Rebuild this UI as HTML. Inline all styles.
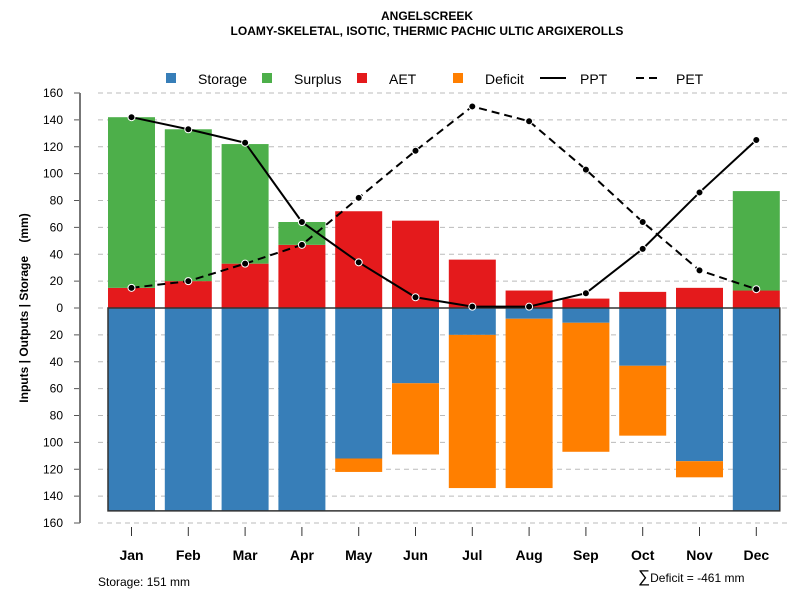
<!DOCTYPE html>
<html><head><meta charset="utf-8"><style>
body{margin:0;background:#fff;}
svg{display:block;font-family:"Liberation Sans",sans-serif;}
</style></head><body>
<svg id="chart" width="800" height="600" viewBox="0 0 800 600">
<text x="427" y="20" text-anchor="middle" font-size="12" font-weight="bold">ANGELSCREEK</text>
<text x="427" y="35" text-anchor="middle" font-size="12" font-weight="bold">LOAMY-SKELETAL, ISOTIC, THERMIC PACHIC ULTIC ARGIXEROLLS</text>
<g>
<rect x="166" y="73" width="10" height="10" fill="#377eb8"/>
<text x="198" y="84" font-size="14">Storage</text>
<rect x="262" y="73" width="10" height="10" fill="#4daf4a"/>
<text x="294" y="84" font-size="14">Surplus</text>
<rect x="357" y="73" width="10" height="10" fill="#e41a1c"/>
<text x="389" y="84" font-size="14">AET</text>
<rect x="453" y="73" width="10" height="10" fill="#ff7f00"/>
<text x="485" y="84" font-size="14">Deficit</text>
<line x1="540" y1="78" x2="566" y2="78" stroke="#000" stroke-width="2"/>
<text x="580" y="84" font-size="14">PPT</text>
<line x1="636" y1="78" x2="662" y2="78" stroke="#000" stroke-width="2" stroke-dasharray="8,5"/>
<text x="676" y="84" font-size="14">PET</text>
</g>
<text transform="translate(28,308) rotate(-90)" text-anchor="middle" font-size="12" font-weight="bold" style="white-space:pre">Inputs | Outputs | Storage    (mm)</text>
<text x="98" y="586" font-size="12">Storage: 151 mm</text>
<text x="638" y="582" font-size="12"><tspan font-size="17">∑</tspan>Deficit = -461 mm</text>
<g id="grid"></g><g id="bars"></g><g id="lines"></g><g id="axes"></g>
</svg>
<script>
const months=["Jan","Feb","Mar","Apr","May","Jun","Jul","Aug","Sep","Oct","Nov","Dec"];
const aet=[15,20,33,47,72,65,36,13,7,12,15,13];
const surplus=[127,113,89,17,0,0,0,0,0,0,0,74];
const storage=[151,151,151,151,112,56,20,8,11,43,114,151];
const deficit=[0,0,0,0,10,53,114,126,96,52,12,0];
const ppt=[142,133,123,64,34,8,1,1,11,44,86,125];
const pet=[15,20,33,47,82,117,150,139,103,64,28,14];
const yTicks=[160,140,120,100,80,60,40,20,0,-20,-40,-60,-80,-100,-120,-140,-160];
const maxStorage=151;
const NS="http://www.w3.org/2000/svg";
const y=v=>308-v*215/160;
const x=i=>131.5+i*56.8;
const bw=47;
function mk(tag,attrs,parent){const e=document.createElementNS(NS,tag);for(const k in attrs)e.setAttribute(k,attrs[k]);document.getElementById(parent).appendChild(e);return e;}
yTicks.forEach(t=>{
 const g=mk("line",{x1:98,x2:790,y1:y(t),y2:y(t),stroke:"#bbb","stroke-dasharray":"5,4"},"grid");
 
 
 const tk=mk("line",{x1:74,x2:80,y1:y(t),y2:y(t),stroke:"#555"},"axes");
 
 
 const tl=mk("text",{x:63,y:y(t)+4,"text-anchor":"end","font-size":"12"},"axes");
 tl.textContent=Math.abs(t);
 
 
});
const ax=mk("line",{x1:80,x2:80,y1:y(160),y2:y(-160),stroke:"#777","stroke-width":2},"axes");


function bar(i,v0,v1,color,name){
 if(v1===v0)return;
 const r=mk("rect",{x:x(i)-bw/2,y:Math.min(y(v0),y(v1)),width:bw,height:Math.abs(y(v1)-y(v0)),fill:color},"bars");
 
 
}
months.forEach((m,i)=>{
 bar(i,0,aet[i],"#e41a1c","bar-aet-"+m.toLowerCase());
 bar(i,aet[i],aet[i]+surplus[i],"#4daf4a","bar-surplus-"+m.toLowerCase());
 bar(i,0,-storage[i],"#377eb8","bar-storage-"+m.toLowerCase());
 bar(i,-storage[i],-storage[i]-deficit[i],"#ff7f00","bar-deficit-"+m.toLowerCase());
 const t=mk("line",{x1:x(i),x2:x(i),y1:527,y2:536,stroke:"#333"},"axes");
 
 
 const l=mk("text",{x:x(i),y:560,"text-anchor":"middle","font-size":"14","font-weight":"bold"},"axes");
 l.textContent=m;
 
 
});
const xl=x(0)-bw/2,xr=x(11)+bw/2;
const box=mk("path",{d:`M${xl},${y(0)}H${xr}V${y(-maxStorage)}H${xl}Z`,fill:"none",stroke:"#333","stroke-width":1.5},"bars");


function series(vals,dash,name){
 const p=mk("polyline",{points:vals.map((v,i)=>x(i)+","+y(v)).join(" "),fill:"none",stroke:"#000","stroke-width":2,"stroke-dasharray":dash},"lines");
 
 
 vals.forEach((v,i)=>{
  const c=mk("circle",{cx:x(i),cy:y(v),r:3.5,fill:"#000",stroke:"#fff","stroke-width":1},"lines");
  
  
 });
}
series(ppt,"none","ppt");
series(pet,"8,5","pet");
</script>
</body></html>
